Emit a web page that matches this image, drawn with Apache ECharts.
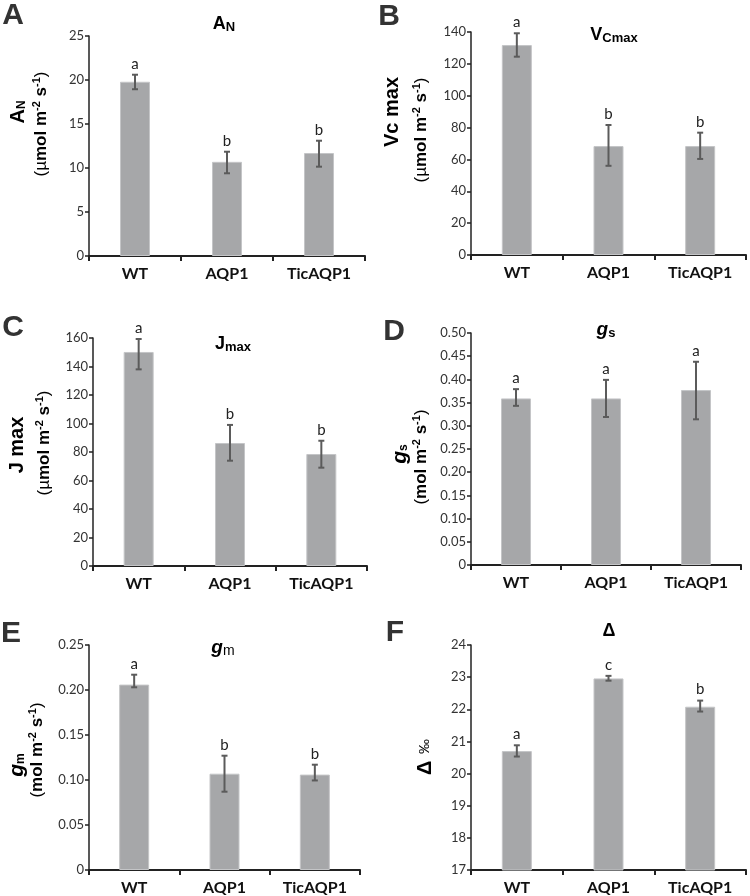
<!DOCTYPE html>
<html>
<head>
<meta charset="utf-8">
<script src="https://cdn.jsdelivr.net/npm/echarts@6/dist/echarts.min.js"></script>
<style>
html,body{margin:0;padding:0;background:#fff;}
#main{width:750px;height:896px;}
</style>
</head>
<body>
<div id="main"></div>
<script>
// ---------- data ----------
const categories = ['WT', 'AQP1', 'TicAQP1'];

const anMean = [19.8, 10.7, 11.7];
const anLow = [18.95, 9.4, 10.15];
const anHigh = [20.6, 11.85, 13.1];
const anLetters = ['a', 'b', 'b'];

const vcMean = [131.8, 68.4, 68.4];
const vcLow = [124.5, 56, 60.3];
const vcHigh = [139.2, 81.6, 76.8];
const vcLetters = ['a', 'b', 'b'];

const jMean = [150.2, 86.3, 78.6];
const jLow = [138, 73.9, 69];
const jHigh = [159.3, 99, 87.9];
const jLetters = ['a', 'b', 'b'];

const gsMean = [0.359, 0.359, 0.377];
const gsLow = [0.343, 0.319, 0.314];
const gsHigh = [0.379, 0.399, 0.438];
const gsLetters = ['a', 'a', 'a'];

const gmMean = [0.206, 0.107, 0.106];
const gmLow = [0.203, 0.087, 0.0995];
const gmHigh = [0.217, 0.127, 0.117];
const gmLetters = ['a', 'b', 'b'];

const dMean = [20.7, 22.96, 22.08];
const dLow = [20.53, 22.89, 21.93];
const dHigh = [20.88, 23.04, 22.27];
const dLetters = ['a', 'c', 'b'];

// ---------- layout ----------
const panels = [
  { mean: anMean, low: anLow, high: anHigh, letters: anLetters, min: 0, max: 25, interval: 5, dec: 0,
    grid: { left: 89, right: 385, top: 36, bottom: 640 } },
  { mean: vcMean, low: vcLow, high: vcHigh, letters: vcLetters, min: 0, max: 140, interval: 20, dec: 0,
    grid: { left: 471, right: 4, top: 32, bottom: 641 } },
  { mean: jMean, low: jLow, high: jHigh, letters: jLetters, min: 0, max: 160, interval: 20, dec: 0,
    grid: { left: 93, right: 383, top: 338, bottom: 330 } },
  { mean: gsMean, low: gsLow, high: gsHigh, letters: gsLetters, min: 0, max: 0.5, interval: 0.05, dec: 2,
    grid: { left: 471, right: 9, top: 333, bottom: 331 } },
  { mean: gmMean, low: gmLow, high: gmHigh, letters: gmLetters, min: 0, max: 0.25, interval: 0.05, dec: 2,
    grid: { left: 89, right: 390, top: 645, bottom: 24 } },
  { mean: dMean, low: dLow, high: dHigh, letters: dLetters, min: 17, max: 24, interval: 1, dec: 0,
    grid: { left: 471, right: 4, top: 645, bottom: 26 } }
];

const AXIS_COLOR = '#222';
const BAR_COLOR = '#a6a7a9';
const ERR_COLOR = '#5b5b5b';
const TICK_FONT = 'Lato';
const NAME_FONT = 'Liberation Sans';

const grids = [], xAxes = [], yAxes = [], series = [];
panels.forEach((p, i) => {
  grids.push(Object.assign({ containLabel: false }, p.grid));
  xAxes.push({
    type: 'category', gridIndex: i, data: categories, boundaryGap: true,
    axisLine: { lineStyle: { color: AXIS_COLOR, width: 2 } },
    axisTick: { show: true, length: 5, lineStyle: { color: AXIS_COLOR, width: 2 } },
    axisLabel: { fontFamily: TICK_FONT, fontWeight: 'bold', fontSize: 16, color: '#111', margin: 10 }
  });
  yAxes.push({
    type: 'value', gridIndex: i, min: p.min, max: p.max, interval: p.interval,
    splitLine: { show: false },
    axisLine: { show: true, lineStyle: { color: AXIS_COLOR, width: 1.5 } },
    axisTick: { show: true, length: 4, lineStyle: { color: AXIS_COLOR, width: 1.5 } },
    axisLabel: {
      fontFamily: TICK_FONT, fontSize: 13, color: '#333', margin: 5,
      formatter: v => (v === 0 ? '0' : v.toFixed(p.dec))
    }
  });
  series.push({
    type: 'bar', xAxisIndex: i, yAxisIndex: i, data: p.mean, barWidth: 30, clip: true, z: 2,
    itemStyle: { color: BAR_COLOR, borderColor: '#c4c5c7', borderWidth: 1 },
    silent: true, animation: false
  });
  series.push({
    type: 'custom', xAxisIndex: i, yAxisIndex: i, silent: true, animation: false, z: 10,
    data: categories.map((c, k) => [k, p.low[k], p.high[k]]),
    renderItem: (params, api) => {
      const k = api.value(0);
      const pLo = api.coord([k, api.value(1)]);
      const pHi = api.coord([k, api.value(2)]);
      const cx = pLo[0];
      const cap = 3;
      const ls = { stroke: ERR_COLOR, lineWidth: 2 };
      return {
        type: 'group',
        children: [
          { type: 'line', shape: { x1: cx, y1: pLo[1], x2: cx, y2: pHi[1] }, style: ls },
          { type: 'line', shape: { x1: cx - cap, y1: pHi[1], x2: cx + cap, y2: pHi[1] }, style: ls },
          { type: 'line', shape: { x1: cx - cap, y1: pLo[1], x2: cx + cap, y2: pLo[1] }, style: ls },
          { type: 'text', style: { text: p.letters[params.dataIndex], x: cx, y: pHi[1] - 11,
              align: 'center', verticalAlign: 'middle', font: '15px Lato', fill: '#222' } }
        ]
      };
    }
  });
});

// ---------- text elements ----------
const letterStyle = (t, x, y) => ({
  type: 'text', x: x, y: y,
  style: { text: t, font: 'bold 30px "Liberation Sans"', fill: '#333', align: 'center', verticalAlign: 'middle' }
});

const richBase = {
  b: { fontFamily: NAME_FONT, fontWeight: 'bold', fontSize: 17, color: '#333' },
  br: { fontFamily: NAME_FONT, fontSize: 17, color: '#333' },
  big: { fontFamily: NAME_FONT, fontWeight: 'bold', fontSize: 20, color: '#333' },
  bigi: { fontFamily: NAME_FONT, fontWeight: 'bold', fontStyle: 'italic', fontSize: 21, color: '#333' },
  sub: { fontFamily: NAME_FONT, fontWeight: 'bold', fontSize: 12, color: '#333', padding: [8, 0, 0, 0] },
  sup: { fontFamily: NAME_FONT, fontWeight: 'bold', fontSize: 11, color: '#333', padding: [0, 0, 8, 0] },
  t: { fontFamily: NAME_FONT, fontWeight: 'bold', fontSize: 18, color: '#333' },
  ti: { fontFamily: NAME_FONT, fontWeight: 'bold', fontStyle: 'italic', fontSize: 19, color: '#333' },
  ts: { fontFamily: NAME_FONT, fontWeight: 'bold', fontSize: 13, color: '#333', padding: [7, 0, 0, 0] },
  tsn: { fontFamily: NAME_FONT, fontSize: 14, color: '#333', padding: [7, 0, 0, 0] },
  p: { fontFamily: NAME_FONT, fontSize: 15, color: '#333' }
};

const rText = (txt, x, y, rot) => ({
  type: 'text', x: x, y: y, rotation: rot ? Math.PI / 2 : 0,
  style: { text: txt, rich: richBase, align: 'center', verticalAlign: 'middle' }
});

const unitUmol = '{br|(µ}{b|mol m}{sup|-2}{b| s}{sup|-1}{br|)}';
const unitMol = '{br|(}{b|mol m}{sup|-2}{b| s}{sup|-1}{br|)}';

const graphics = [
  letterStyle('A', 13, 16), letterStyle('B', 389, 17), letterStyle('C', 13, 328),
  letterStyle('D', 394, 332), letterStyle('E', 11, 634), letterStyle('F', 395, 633),
  // titles
  rText('{t|A}{ts|N}', 224, 24, false),
  rText('{t|V}{ts|Cmax}', 614, 35, false),
  rText('{t|J}{ts|max}', 233, 344, false),
  rText('{ti|g}{ts|s}', 606, 330, false),
  rText('{ti|g}{tsn|m}', 223, 648, false),
  rText('{t|Δ}', 609, 631, false),
  // y axis names
  rText('{big|A}{sub|N}', 18, 112, true),
  rText(unitUmol, 41, 124, true),
  rText('{big|Vc max}', 392, 112, true),
  rText(unitUmol, 421, 130, true),
  rText('{big|J max}', 17, 445, true),
  rText(unitUmol, 44, 443, true),
  rText('{bigi|g}{sub|s}', 400, 454, true),
  rText(unitMol, 421, 457, true),
  rText('{bigi|g}{sub|m}', 17, 765, true),
  rText(unitMol, 37, 750, true),
  rText('{big|Δ}  {p|‰}', 425, 757, true)
];

const chart = echarts.init(document.getElementById('main'), null, { renderer: 'canvas' });
chart.setOption({
  animation: false,
  backgroundColor: '#fff',
  grid: grids, xAxis: xAxes, yAxis: yAxes, series: series,
  graphic: { elements: graphics }
});
</script>
</body>
</html>
